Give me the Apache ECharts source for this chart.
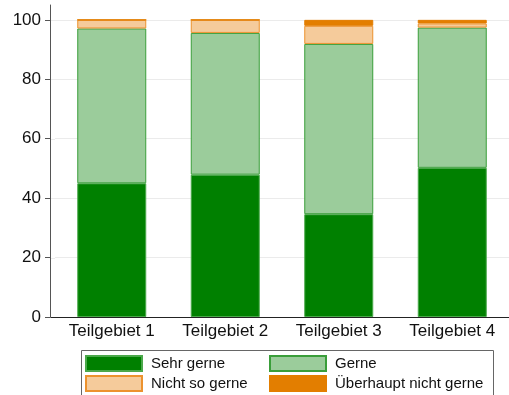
<!DOCTYPE html>
<html>
<head>
<meta charset="utf-8">
<script src="https://cdn.jsdelivr.net/npm/echarts@6/dist/echarts.min.js"></script>
<style>
  html, body { margin: 0; padding: 0; background: #fff; }
  #chart { width: 509px; height: 395px; }
</style>
</head>
<body>
<div id="chart"></div>
<script>
// Share of answers per sub-area (percent)
const categories = ['Teilgebiet 1', 'Teilgebiet 2', 'Teilgebiet 3', 'Teilgebiet 4'];
const sehrGerne = [45.0, 47.9, 34.6, 50.2];
const gerne = [52.1, 47.7, 57.3, 47.2];
const nichtSoGerne = [2.9, 4.4, 6.1, 1.4];
const ueberhauptNicht = [0.0, 0.0, 2.0, 1.2];
const yTicks = [0, 20, 40, 60, 80, 100];

const FONT = 'Liberation Sans, Arial, sans-serif';

function barSeries(name, data, fill, border) {
  return {
    name: name,
    type: 'bar',
    stack: 'total',
    data: data,
    barWidth: 69,
    itemStyle: { color: fill, borderColor: border, borderWidth: 1 }
  };
}

// one legend entry per slot so the two columns line up
function legendItem(name, left, top) {
  return {
    orient: 'horizontal',
    left: left,
    top: top,
    padding: 0,
    icon: 'rect',
    itemWidth: 56,
    itemHeight: 15,
    selectedMode: false,
    data: [name],
    textStyle: { fontSize: 15, color: '#111', fontFamily: FONT, padding: [0, 0, 0, 4] }
  };
}

const chart = echarts.init(document.getElementById('chart'), null, { renderer: 'canvas' });

chart.setOption({
  animation: false,
  backgroundColor: '#ffffff',
  textStyle: { fontFamily: FONT },
  grid: { left: 55, right: -6, top: 5, bottom: 78, containLabel: false },
  xAxis: {
    type: 'category',
    data: categories,
    axisLine: { lineStyle: { color: '#222', width: 1 } },
    axisTick: { show: false },
    axisLabel: { color: '#111', fontSize: 17, fontFamily: FONT, margin: 6 }
  },
  yAxis: {
    type: 'value',
    min: 0,
    max: 105,
    interval: 20,
    offset: 5,
    axisLine: { show: true, lineStyle: { color: '#555', width: 1 } },
    axisTick: { show: true, length: 5, customValues: yTicks, lineStyle: { color: '#555' } },
    axisLabel: { color: '#111', fontSize: 17, fontFamily: FONT, margin: 9, customValues: yTicks },
    splitLine: { show: true, lineStyle: { color: '#ebebeb', width: 1 } }
  },
  legend: [
    legendItem('Sehr gerne', 85, 355),
    legendItem('Nicht so gerne', 85, 375),
    legendItem('Gerne', 269, 355),
    legendItem('Überhaupt nicht gerne', 269, 375)
  ],
  series: [
    barSeries('Sehr gerne', sehrGerne, '#008000', '#4aa84a'),
    barSeries('Gerne', gerne, '#9bcc9b', '#3a9e3a'),
    barSeries('Nicht so gerne', nichtSoGerne, '#f5cb9b', '#ec922e'),
    barSeries('Überhaupt nicht gerne', ueberhauptNicht, '#e37e00', '#e37e00')
  ]
});

// legend frame, the baseline stretch left of the plot, and gridline stubs
// between the offset y-axis and the plot area
const x0 = 50.5;
const xPlot = 55;
const baseY = Math.round(chart.convertToPixel({ yAxisIndex: 0 }, 0)) + 0.5;
const extras = [
  {
    type: 'rect',
    left: 79,
    top: 348,
    shape: { width: 412, height: 60 },
    style: { fill: 'none', stroke: '#666', lineWidth: 1 }
  },
  {
    type: 'line',
    shape: { x1: x0, y1: baseY, x2: xPlot + 1, y2: baseY },
    style: { stroke: '#222', lineWidth: 1 },
    z: 10
  }
];
yTicks.slice(1).forEach(function (v) {
  const y = Math.round(chart.convertToPixel({ yAxisIndex: 0 }, v)) + 0.5;
  extras.push({
    type: 'line',
    silent: true,
    shape: { x1: x0 + 0.5, y1: y, x2: xPlot, y2: y },
    style: { stroke: '#ebebeb', lineWidth: 1 }
  });
});
chart.setOption({ graphic: extras });
</script>
</body>
</html>
